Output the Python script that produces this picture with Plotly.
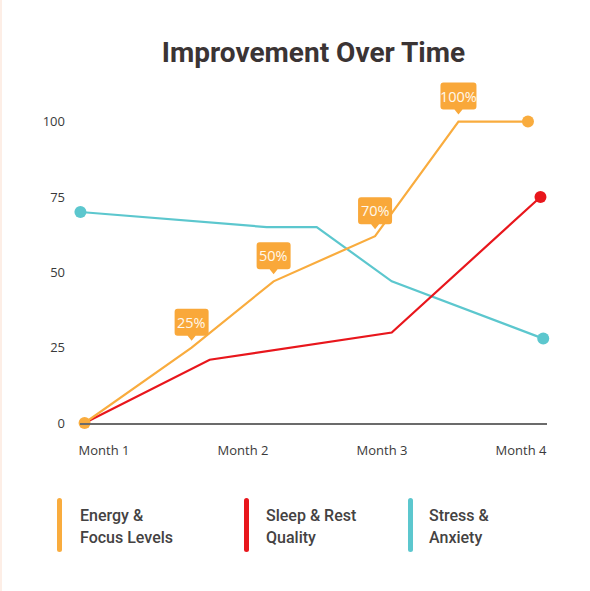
import plotly.graph_objects as go

# ---------------- data ----------------
month_labels = ["Month 1", "Month 2", "Month 3", "Month 4"]
month_ticks = [1, 2, 3, 4]
y_ticks = [0, 25, 50, 75, 100]

energy_x = [0.86, 1.63, 2.22, 2.95, 3.55, 4.05]
energy_y = [0, 25, 47, 62, 100, 100]
energy_callout_idx = [1, 2, 3, 4]
energy_callout_text = ["25%", "50%", "70%", "100%"]

sleep_x = [0.86, 1.76, 3.07, 4.14]
sleep_y = [0, 21, 30, 75]

stress_x = [0.83, 2.17, 2.53, 3.07, 4.16]
stress_y = [70, 65, 65, 47, 28]

series_names = [["Energy &", "Focus Levels"], ["Sleep & Rest", "Quality"], ["Stress &", "Anxiety"]]

ORANGE = "#F9AC3E"
RED = "#E8161C"
TEAL = "#5CC7CE"
CALLOUT = "#F9A83A"

W, H = 590, 591
ML, MR, MT, MB = 80, 43, 80, 168
PW = W - ML - MR
PH = H - MT - MB

fig = go.Figure()


def add_series(xs, ys, color, start_marker=True):
    fig.add_trace(go.Scatter(x=xs, y=ys, mode="lines", line=dict(color=color, width=2.2),
                             showlegend=False, hoverinfo="skip", cliponaxis=False))
    mx = ([xs[0]] if start_marker else []) + [xs[-1]]
    my = ([ys[0]] if start_marker else []) + [ys[-1]]
    fig.add_trace(go.Scatter(x=mx, y=my, mode="markers",
                             marker=dict(color=color, size=12, opacity=1, line=dict(width=0)),
                             showlegend=False, hoverinfo="skip", cliponaxis=False))


add_series(stress_x, stress_y, TEAL)
add_series(sleep_x, sleep_y, RED, start_marker=False)
add_series(energy_x, energy_y, ORANGE)

shapes = []
annotations = []

# callouts (rounded box with pointer, positioned in pixels relative to data point)
box_path = ("M -14,12 L -4,12 L 0,7 L 4,12 L 14,12 Q 17,12 17,15 L 17,36 "
            "Q 17,39 14,39 L -14,39 Q -17,39 -17,36 L -17,15 Q -17,12 -14,12 Z")
box_path_wide = ("M -15,12 L -4,12 L 0,7 L 4,12 L 15,12 Q 18,12 18,15 L 18,36 "
                 "Q 18,39 15,39 L -15,39 Q -18,39 -18,36 L -18,15 Q -18,12 -15,12 Z")
for idx, txt in zip(energy_callout_idx, energy_callout_text):
    shapes.append(dict(type="path", xref="x", yref="y", xsizemode="pixel", ysizemode="pixel",
                       xanchor=energy_x[idx], yanchor=energy_y[idx],
                       path=box_path_wide if len(txt) > 3 else box_path,
                       fillcolor=CALLOUT, line=dict(width=0), layer="above"))
    annotations.append(dict(x=energy_x[idx], y=energy_y[idx], xref="x", yref="y",
                            text=txt, showarrow=False, yshift=25.5, yanchor="middle",
                            font=dict(family="Open Sans", size=14.5, color="#FFF8EC")))

# custom legend
leg_bar_px = [59.5, 246.5, 410.5]
leg_text_px = [78, 264, 427]
leg_colors = [ORANGE, RED, TEAL]
for bx, tx, col, names in zip(leg_bar_px, leg_text_px, leg_colors, series_names):
    shapes.append(dict(type="path", xref="paper", yref="paper", xsizemode="pixel", ysizemode="pixel",
                       xanchor=(bx - ML) / PW, yanchor=(MT + PH - 525) / PH,
                       path="M -2.5,-24.5 Q -2.5,-27 0,-27 Q 2.5,-27 2.5,-24.5 L 2.5,24.5 "
                            "Q 2.5,27 0,27 Q -2.5,27 -2.5,24.5 Z",
                       fillcolor=col, line=dict(width=0)))
    for line_txt, py in zip(names, [515, 537]):
        annotations.append(dict(x=(tx - ML) / PW, y=(MT + PH - py) / PH, xref="paper", yref="paper",
                                text=line_txt, showarrow=False, xanchor="left", yanchor="middle",
                                font=dict(family="Roboto", size=16, weight=500, color="#444242")))

# faint left edge strip
shapes.append(dict(type="rect", xref="paper", yref="paper", x0=-ML / PW, x1=(2 - ML) / PW,
                   y0=-MB / PH, y1=1 + MT / PH, fillcolor="#FDEEE6", line=dict(width=0), layer="below"))

fig.update_layout(
    width=W, height=H,
    margin=dict(l=ML, r=MR, t=MT, b=MB),
    paper_bgcolor="white", plot_bgcolor="white",
    title=dict(text="Improvement Over Time", x=0.5, xanchor="center", xref="paper",
               y=1 - 52 / H, yanchor="middle",
               font=dict(family="Roboto", size=28, weight=700, color="#3B3434")),
    xaxis=dict(range=[0.827, 4.187], tickmode="array", tickvals=month_ticks, ticktext=month_labels,
               showgrid=False, zeroline=False, showline=True, linecolor="#6B6B6B", linewidth=2,
               ticks="", ticklabelstandoff=14,
               tickfont=dict(family="Open Sans", size=13, color="#3A3A3A")),
    yaxis=dict(range=[0, 113.8], tickmode="array", tickvals=y_ticks,
               showgrid=False, zeroline=False, showline=False, ticks="", ticklabelstandoff=14,
               tickfont=dict(family="Open Sans", size=13, color="#3A3A3A")),
    shapes=shapes, annotations=annotations,
)

fig.write_html("out.html")
